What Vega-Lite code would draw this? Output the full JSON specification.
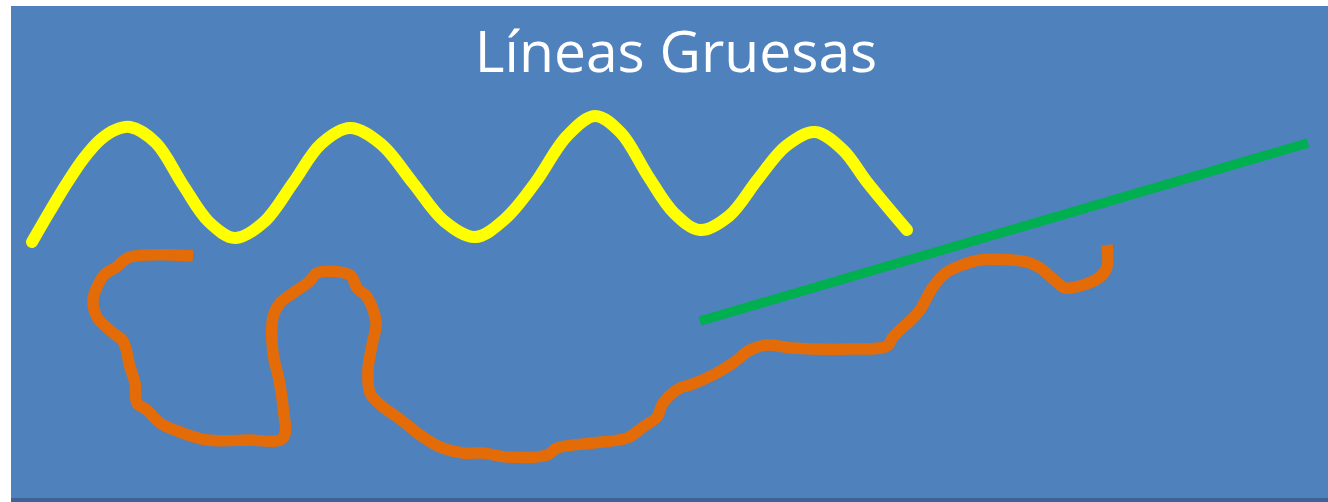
{
  "$schema": "https://vega.github.io/schema/vega-lite/v6.json",
  "width": 1317,
  "height": 496,
  "autosize": {"type": "none"},
  "padding": {"left": 11, "top": 6, "right": 0, "bottom": 0},
  "background": "white",
  "config": {"view": {"fill": "#4F81BD", "stroke": null}},
  "datasets": {
    "yellow": [
      {"i":0,"x":32,"y":242},{"i":1,"x":50,"y":211},{"i":2,"x":67,"y":183},{"i":3,"x":84,"y":158},{"i":4,"x":100,"y":140},{"i":5,"x":115,"y":130},{"i":6,"x":130,"y":127},{"i":7,"x":156,"y":143},{"i":8,"x":183,"y":185},{"i":9,"x":209,"y":222},{"i":10,"x":235,"y":238},{"i":11,"x":264,"y":222},{"i":12,"x":293,"y":183},{"i":13,"x":321,"y":144},{"i":14,"x":350,"y":128},{"i":15,"x":381,"y":144},{"i":16,"x":413,"y":183},{"i":17,"x":444,"y":221},{"i":18,"x":475,"y":237},{"i":19,"x":505,"y":219},{"i":20,"x":535,"y":183},{"i":21,"x":567,"y":136},{"i":22,"x":595,"y":116},{"i":23,"x":621,"y":133},{"i":24,"x":648,"y":176},{"i":25,"x":674,"y":213},{"i":26,"x":700,"y":230},{"i":27,"x":729,"y":216},{"i":28,"x":758,"y":179},{"i":29,"x":786,"y":146},{"i":30,"x":815,"y":132},{"i":31,"x":843,"y":150},{"i":32,"x":867,"y":182},{"i":33,"x":907,"y":230}
    ],
    "green": [
      {"i":0,"x":700,"y":321},{"i":1,"x":1308,"y":143}
    ],
    "orange": [
      {"i":0,"x":193,"y":256},{"i":1,"x":130,"y":257},{"i":2,"x":115,"y":268},{"i":3,"x":105,"y":274},{"i":4,"x":97,"y":287},{"i":5,"x":93,"y":300},{"i":6,"x":97,"y":317},{"i":7,"x":113,"y":333},{"i":8,"x":123,"y":341},{"i":9,"x":130,"y":367},{"i":10,"x":135,"y":383},{"i":11,"x":137,"y":403},{"i":12,"x":147,"y":410},{"i":13,"x":160,"y":423},{"i":14,"x":180,"y":432},{"i":15,"x":207,"y":440},{"i":16,"x":247,"y":440},{"i":17,"x":283,"y":438},{"i":18,"x":283,"y":407},{"i":19,"x":279,"y":380},{"i":20,"x":273,"y":353},{"i":21,"x":273,"y":317},{"i":22,"x":280,"y":303},{"i":23,"x":293,"y":293},{"i":24,"x":310,"y":281},{"i":25,"x":317,"y":273},{"i":26,"x":350,"y":275},{"i":27,"x":357,"y":288},{"i":28,"x":367,"y":297},{"i":29,"x":376,"y":322},{"i":30,"x":372,"y":345},{"i":31,"x":368,"y":370},{"i":32,"x":370,"y":393},{"i":33,"x":383,"y":407},{"i":34,"x":397,"y":417},{"i":35,"x":410,"y":427},{"i":36,"x":420,"y":435},{"i":37,"x":440,"y":447},{"i":38,"x":463,"y":453},{"i":39,"x":483,"y":453},{"i":40,"x":507,"y":457},{"i":41,"x":547,"y":455},{"i":42,"x":557,"y":448},{"i":43,"x":593,"y":443},{"i":44,"x":627,"y":438},{"i":45,"x":643,"y":427},{"i":46,"x":657,"y":417},{"i":47,"x":663,"y":403},{"i":48,"x":680,"y":388},{"i":49,"x":690,"y":385},{"i":50,"x":713,"y":375},{"i":51,"x":733,"y":363},{"i":52,"x":750,"y":350},{"i":53,"x":767,"y":345},{"i":54,"x":793,"y":348},{"i":55,"x":847,"y":349},{"i":56,"x":887,"y":346},{"i":57,"x":893,"y":337},{"i":58,"x":913,"y":318},{"i":59,"x":920,"y":310},{"i":60,"x":933,"y":287},{"i":61,"x":947,"y":272},{"i":62,"x":957,"y":267},{"i":63,"x":980,"y":260},{"i":64,"x":1027,"y":262},{"i":65,"x":1040,"y":268},{"i":66,"x":1060,"y":285},{"i":67,"x":1065,"y":288},{"i":68,"x":1083,"y":285},{"i":69,"x":1100,"y":277},{"i":70,"x":1107,"y":267},{"i":71,"x":1107,"y":245}
    ],
    "title": [
      {"label": "Líneas Gruesas", "x": 676, "y": 72}
    ],
    "frame": [
      {"x": 11, "x2": 1328, "y": 498, "y2": 502}
    ]
  },
  "encoding": {
    "x": {"field": "x", "type": "quantitative", "scale": {"domain": [11, 1328], "nice": false, "zero": false}, "axis": null},
    "y": {"field": "y", "type": "quantitative", "scale": {"domain": [6, 502], "nice": false, "zero": false, "reverse": true}, "axis": null}
  },
  "layer": [
    {
      "data": {"name": "frame"},
      "mark": {"type": "rect", "color": "#3D6394"},
      "encoding": {"x2": {"field": "x2"}, "y2": {"field": "y2"}}
    },
    {
      "data": {"name": "title"},
      "mark": {"type": "text", "font": "Open Sans", "fontSize": 57, "color": "white", "align": "center", "baseline": "alphabetic"},
      "encoding": {"text": {"field": "label"}}
    },
    {
      "data": {"name": "yellow"},
      "mark": {"type": "line", "color": "#FFFF00", "strokeWidth": 12, "strokeCap": "round", "interpolate": "catmull-rom"},
      "encoding": {"order": {"field": "i"}}
    },
    {
      "data": {"name": "green"},
      "mark": {"type": "line", "color": "#00B050", "strokeWidth": 9.5, "strokeCap": "butt"},
      "encoding": {"order": {"field": "i"}}
    },
    {
      "data": {"name": "orange"},
      "mark": {"type": "line", "color": "#E36C09", "strokeWidth": 11.5, "strokeCap": "butt", "strokeJoin": "round", "interpolate": "catmull-rom"},
      "encoding": {"order": {"field": "i"}}
    }
  ]
}
